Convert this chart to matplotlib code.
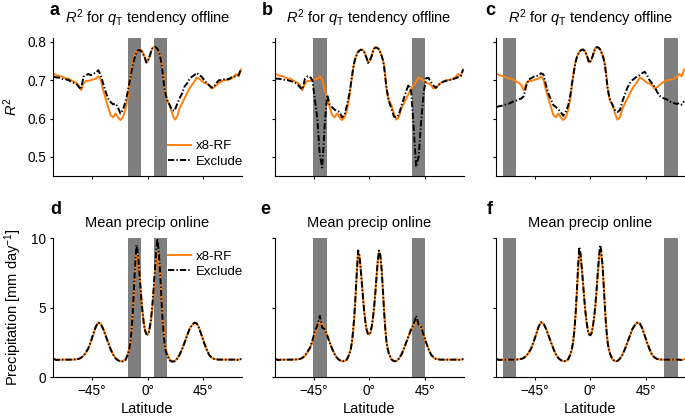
'''
R2 and precip by latitude, x8-RF vs excluded-latitude training
'''

#############################################
#FRONT END
import matplotlib
matplotlib.use('Agg')
from matplotlib import pyplot as plt

fig_theme = {'font.family': 'Liberation Sans',
             'mathtext.fontset': 'custom',
             'mathtext.rm': 'Liberation Sans',
             'mathtext.it': 'Liberation Sans:italic',
             'xtick.labelsize': 9.8,
             'ytick.labelsize': 9.8,
             'axes.labelsize': 10.5,
             'axes.titlesize': 10.5,
             'legend.fontsize': 9.5,
             'axes.linewidth': 0.8}
matplotlib.rcParams.update(fig_theme)
#############################################

#############################################
#Data

#latitude grid (2 deg outside tropics, 1 deg inside)
lat = [-76, -74, -72, -70, -68, -66, -64, -62, -60, -58,
       -56, -54, -52, -50, -48, -46, -44, -42, -40, -38,
       -36, -34, -32, -30, -28, -26, -24, -22, -20, -18, -16,
       -15, -14, -13, -12, -11, -10, -9, -8, -7, -6, -5, -4, -3, -2, -1,
       0, 1, 2, 3, 4, 5, 6, 7, 8, 9, 10, 11, 12, 13, 14, 15,
       16, 18, 20, 22, 24, 26, 28, 30, 32, 34,
       36, 38, 40, 42, 44, 46, 48, 50, 52, 54,
       56, 58, 60, 62, 64, 66, 68, 70, 72, 74, 76]

#R2 offline, x8-RF (same in a, b, c)
r2_rf = [0.717, 0.713, 0.711, 0.710, 0.707, 0.704, 0.704, 0.700, 0.696, 0.693,
         0.687, 0.674, 0.691, 0.698, 0.698, 0.700, 0.702, 0.704, 0.710, 0.702,
         0.674, 0.652, 0.630, 0.609, 0.603, 0.613, 0.603, 0.596, 0.603, 0.622, 0.657,
         0.685, 0.709, 0.730, 0.748, 0.760, 0.768, 0.774, 0.777, 0.780, 0.780,
         0.778, 0.774, 0.766, 0.757, 0.746, 0.748, 0.754, 0.763, 0.775, 0.783,
         0.786, 0.785, 0.783, 0.780, 0.773, 0.765, 0.755, 0.739, 0.712, 0.678, 0.658,
         0.646, 0.635, 0.613, 0.597, 0.604, 0.626, 0.639, 0.652, 0.665, 0.678,
         0.687, 0.696, 0.707, 0.704, 0.698, 0.693, 0.691, 0.687, 0.678, 0.681,
         0.687, 0.693, 0.696, 0.700, 0.700, 0.702, 0.704, 0.709, 0.716, 0.710, 0.728]

#R2 offline, Exclude
r2_excl_a = [0.709, 0.707, 0.707, 0.704, 0.702, 0.702, 0.700, 0.696, 0.693, 0.691,
             0.683, 0.676, 0.709, 0.713, 0.716, 0.713, 0.717, 0.719, 0.726, 0.713,
             0.691, 0.670, 0.652, 0.643, 0.637, 0.639, 0.629, 0.613, 0.622, 0.643, 0.670,
             0.688, 0.704, 0.722, 0.739, 0.752, 0.763, 0.771, 0.777, 0.779, 0.778,
             0.775, 0.771, 0.764, 0.757, 0.746, 0.750, 0.757, 0.765, 0.775, 0.783,
             0.786, 0.787, 0.785, 0.782, 0.775, 0.765, 0.750, 0.728, 0.700, 0.674, 0.660,
             0.648, 0.635, 0.622, 0.620, 0.637, 0.652, 0.665, 0.683, 0.691, 0.702,
             0.709, 0.713, 0.719, 0.713, 0.709, 0.700, 0.693, 0.687, 0.681, 0.683,
             0.693, 0.700, 0.700, 0.702, 0.704, 0.702, 0.707, 0.709, 0.710, 0.713, 0.730]

r2_excl_b = [0.704, 0.704, 0.703, 0.702, 0.700, 0.700, 0.698, 0.696, 0.693, 0.690,
             0.681, 0.676, 0.704, 0.710, 0.709, 0.700, 0.650, 0.600, 0.505, 0.472,
             0.585, 0.662, 0.637, 0.629, 0.623, 0.620, 0.617, 0.603, 0.609, 0.635, 0.665,
             0.686, 0.708, 0.730, 0.747, 0.759, 0.767, 0.773, 0.777, 0.779, 0.779,
             0.777, 0.773, 0.765, 0.757, 0.745, 0.749, 0.755, 0.763, 0.774, 0.782,
             0.785, 0.785, 0.783, 0.780, 0.772, 0.764, 0.753, 0.737, 0.708, 0.680, 0.662,
             0.645, 0.625, 0.605, 0.603, 0.610, 0.632, 0.652, 0.672, 0.689, 0.670,
             0.575, 0.474, 0.500, 0.590, 0.665, 0.705, 0.706, 0.695, 0.686, 0.680,
             0.687, 0.693, 0.696, 0.698, 0.700, 0.701, 0.703, 0.705, 0.708, 0.710, 0.728]

r2_excl_c = [0.630, 0.632, 0.633, 0.635, 0.637, 0.639, 0.642, 0.645, 0.647, 0.650,
             0.652, 0.658, 0.685, 0.702, 0.705, 0.709, 0.710, 0.713, 0.718, 0.715,
             0.688, 0.665, 0.650, 0.635, 0.630, 0.624, 0.617, 0.607, 0.618, 0.633, 0.665,
             0.690, 0.708, 0.729, 0.747, 0.759, 0.767, 0.773, 0.777, 0.779, 0.780,
             0.778, 0.773, 0.765, 0.756, 0.745, 0.749, 0.756, 0.764, 0.775, 0.783,
             0.786, 0.786, 0.784, 0.780, 0.772, 0.764, 0.752, 0.735, 0.706, 0.680, 0.662,
             0.650, 0.635, 0.622, 0.617, 0.622, 0.645, 0.663, 0.680, 0.692, 0.700,
             0.705, 0.710, 0.713, 0.718, 0.722, 0.713, 0.700, 0.692, 0.683, 0.670,
             0.660, 0.655, 0.652, 0.650, 0.645, 0.642, 0.640, 0.638, 0.640, 0.636, 0.645]

#Mean precip online, x8-RF (same in d, e, f)
pr_rf = [1.28, 1.24, 1.25, 1.25, 1.25, 1.25, 1.25, 1.25, 1.26, 1.27,
         1.30, 1.37, 1.51, 1.75, 2.04, 2.52, 3.05, 3.60, 3.93, 3.84,
         3.48, 3.00, 2.52, 2.04, 1.65, 1.37, 1.22, 1.13, 1.15, 1.27, 1.68,
         2.00, 2.52, 3.30, 4.44, 5.90, 7.55, 9.00, 8.75, 7.90, 6.83,
         5.70, 4.68, 3.90, 3.36, 3.10, 3.05, 3.20, 3.60, 4.20, 5.04,
         6.10, 7.30, 8.40, 9.00, 8.70, 7.80, 6.40, 4.80, 3.50, 2.52, 2.00,
         1.68, 1.27, 1.13, 1.15, 1.32, 1.60, 2.00, 2.47, 2.95, 3.43,
         3.72, 3.91, 3.86, 3.53, 3.00, 2.47, 2.00, 1.60, 1.41, 1.30,
         1.27, 1.25, 1.25, 1.25, 1.25, 1.25, 1.25, 1.25, 1.25, 1.24, 1.28]

#Mean precip online, Exclude
pr_excl_d = [1.30, 1.22, 1.24, 1.25, 1.25, 1.25, 1.25, 1.25, 1.26, 1.27,
             1.30, 1.38, 1.53, 1.78, 2.08, 2.55, 3.10, 3.62, 3.92, 3.82,
             3.45, 2.97, 2.48, 2.00, 1.62, 1.34, 1.20, 1.12, 1.12, 1.20, 1.60,
             1.95, 2.45, 3.30, 4.60, 6.30, 8.10, 9.50, 9.10, 8.00, 6.80,
             5.60, 4.60, 3.85, 3.35, 3.10, 3.05, 3.20, 3.65, 4.30, 5.20,
             6.40, 7.70, 9.00, 9.95, 9.20, 7.90, 6.20, 4.50, 3.20, 2.30, 1.80,
             1.50, 1.20, 1.10, 1.13, 1.30, 1.58, 1.97, 2.45, 2.93, 3.42,
             3.72, 3.90, 3.85, 3.50, 2.98, 2.45, 1.98, 1.60, 1.40, 1.30,
             1.27, 1.25, 1.25, 1.25, 1.25, 1.25, 1.25, 1.25, 1.25, 1.22, 1.30]

pr_excl_e = [1.30, 1.22, 1.24, 1.25, 1.25, 1.25, 1.25, 1.25, 1.26, 1.27,
             1.30, 1.38, 1.55, 1.82, 2.10, 2.60, 3.30, 3.70, 4.40, 3.55,
             3.45, 2.98, 2.50, 2.02, 1.64, 1.36, 1.21, 1.13, 1.14, 1.26, 1.66,
             1.98, 2.50, 3.30, 4.45, 5.95, 7.60, 9.10, 8.80, 7.90, 6.83,
             5.70, 4.68, 3.90, 3.36, 3.10, 3.05, 3.20, 3.60, 4.20, 5.05,
             6.10, 7.30, 8.40, 9.10, 8.75, 7.80, 6.40, 4.80, 3.50, 2.52, 2.00,
             1.68, 1.27, 1.13, 1.15, 1.32, 1.60, 2.02, 2.50, 2.98, 3.45,
             3.80, 4.40, 3.75, 3.60, 3.05, 2.50, 2.02, 1.62, 1.42, 1.30,
             1.27, 1.25, 1.25, 1.25, 1.25, 1.25, 1.25, 1.25, 1.25, 1.22, 1.30]

pr_excl_f = [1.30, 1.22, 1.24, 1.25, 1.25, 1.25, 1.25, 1.25, 1.26, 1.27,
             1.30, 1.37, 1.52, 1.76, 2.05, 2.53, 3.06, 3.61, 3.94, 3.85,
             3.48, 3.00, 2.52, 2.04, 1.65, 1.37, 1.22, 1.13, 1.15, 1.27, 1.66,
             2.00, 2.50, 3.30, 4.50, 6.10, 7.90, 9.35, 8.90, 7.90, 6.80,
             5.70, 4.70, 3.90, 3.35, 3.05, 3.00, 3.15, 3.60, 4.25, 5.10,
             6.20, 7.50, 8.70, 9.50, 9.00, 7.90, 6.30, 4.70, 3.40, 2.50, 1.95,
             1.66, 1.27, 1.13, 1.15, 1.32, 1.60, 2.00, 2.47, 2.95, 3.43,
             3.72, 3.91, 3.86, 3.53, 3.00, 2.47, 2.00, 1.60, 1.41, 1.30,
             1.27, 1.25, 1.25, 1.25, 1.25, 1.25, 1.25, 1.25, 1.25, 1.22, 1.30]

#excluded latitude bands for each column
excl_bands = [[(-16, -5.3), (5.3, 16)],
              [(-45.5, -34.5), (34.5, 45.5)],
              [(-71, -60), (60, 71)]]

r2_excl = [r2_excl_a, r2_excl_b, r2_excl_c]
pr_excl = [pr_excl_d, pr_excl_e, pr_excl_f]
letters = [['a', 'b', 'c'], ['d', 'e', 'f']]
#############################################

#############################################
#Layout in pixels (685 x 419)
W, H = 685, 419
col_x = [(53.3, 188.4), (274.7, 189.0), (496.0, 188.7)]
row_y = [(38, 176), (238, 377)]
letter_xy = [[(50, 15), (261.7, 15), (485, 15)],
             [(50, 214), (260, 214), (487, 214)]]

orange = '#ff7f0e'
dashdot = (0, (3.2, 1.1, 0.7, 1.1))

fig = plt.figure(figsize=(W/100, H/100), dpi=100)

for r in range(2):
    for c in range(3):
        x0, w = col_x[c]
        y0, y1 = row_y[r]
        ax = fig.add_axes([x0/W, 1 - y1/H, w/W, (y1 - y0)/H])
        for lo, hi in excl_bands[c]:
            ax.axvspan(lo, hi, color='#7f7f7f', lw=0, zorder=0)
        if r == 0:
            ax.plot(lat, r2_rf, color=orange, lw=1.4, label='x8-RF', zorder=2)
            ax.plot(lat, r2_excl[c], color='k', lw=1.4, ls=dashdot,
                    label='Exclude', zorder=3)
            ax.set_ylim(0.45, 0.81)
            ax.set_yticks([0.5, 0.6, 0.7, 0.8])
            ax.set_title('$R^2$ for $q_\\mathrm{T}$ tendency offline', pad=11)
        else:
            ax.plot(lat, pr_rf, color=orange, lw=1.4, label='x8-RF', zorder=2)
            ax.plot(lat, pr_excl[c], color='k', lw=1.4, ls=dashdot,
                    label='Exclude', zorder=3)
            ax.set_ylim(0, 10)
            ax.set_yticks([0, 5, 10])
            ax.set_title('Mean precip online', pad=8)
        ax.set_xlim(-76.5, 76.5)
        ax.set_xticks([-45, 0, 45])
        if r == 1:
            ax.set_xticklabels(['\u221245\u00b0', '0\u00b0', '45\u00b0'])
            ax.set_xlabel('Latitude', labelpad=3)
        else:
            ax.set_xticklabels([])
        if c != 0:
            ax.set_yticklabels([])
        ax.spines['top'].set_visible(False)
        ax.spines['right'].set_visible(False)
        ax.tick_params(direction='out', length=2.5, width=0.8, pad=2.5)

        if c == 0 and r == 0:
            ax.set_ylabel('$R^2$')
            ax.yaxis.set_label_coords(-0.175, 0.5)
            ax.legend(loc='lower right', bbox_to_anchor=(1.03, 0.03),
                      frameon=False, handlelength=1.7, handletextpad=0.4,
                      labelspacing=0.25, borderaxespad=0, borderpad=0.3)
        if c == 0 and r == 1:
            ax.set_ylabel('Precipitation [mm day$^{-1}$]')
            ax.yaxis.set_label_coords(-0.157, 0.5)
            ax.legend(loc='upper right', bbox_to_anchor=(1.03, 0.94),
                      frameon=False, handlelength=1.7, handletextpad=0.4,
                      labelspacing=0.25, borderaxespad=0, borderpad=0.3)

        lx, ly = letter_xy[r][c]
        fig.text(lx/W, 1 - ly/H, letters[r][c], fontsize=13,
                 fontweight='bold', va='baseline', ha='left')

plt.savefig('out.png', dpi=100)
#############################################
